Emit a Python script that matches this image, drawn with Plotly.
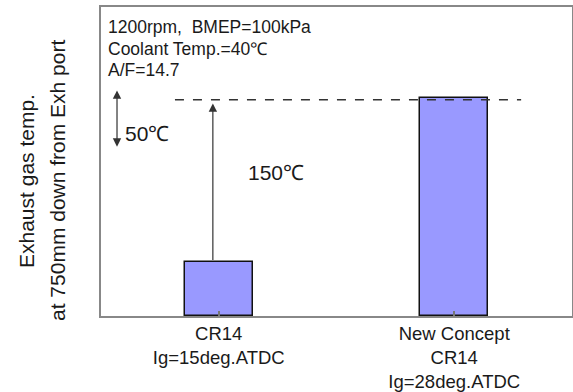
import plotly.graph_objects as go

# ---- data ----
categories = ["CR14", "New Concept CR14"]
tick_labels = ["CR14<br>Ig=15deg.ATDC", "New Concept<br>CR14<br>Ig=28deg.ATDC"]
temp_rise = [50, 200]          # relative exhaust gas temperature (°C)
diff_label = "150℃"
band_label = "50℃"
band_range = [154, 207]
cond_lines = ["1200rpm,  BMEP=100kPa", "Coolant Temp.=40℃", "A/F=14.7"]
y_title = ["Exhaust gas temp.", "at 750mm down from Exh port"]

FONT = "Liberation Sans, Arial, sans-serif"
TXT = "#1a1a1a"

fig = go.Figure()
fig.add_trace(go.Bar(
    x=[0, 1], y=temp_rise, width=0.29,
    marker=dict(color="#9999FF", line=dict(color="#111111", width=1.5)),
    showlegend=False, hoverinfo="skip"))

# dashed reference line at the new-concept level
fig.add_shape(type="line", xref="x", yref="y", x0=-0.186, x1=1.284,
              y0=temp_rise[1] - 1.5, y1=temp_rise[1] - 1.5,
              line=dict(color="#333333", width=1.5, dash="dash"))

# 150 °C arrow from bar 1 top up to the dashed line
fig.add_annotation(x=-0.025, y=temp_rise[1] - 5, ax=-0.025, ay=temp_rise[0],
                   xref="x", yref="y", axref="x", ayref="y", text="",
                   showarrow=True, arrowhead=2, arrowsize=1.4, arrowwidth=1.2,
                   arrowcolor="#333333")
fig.add_annotation(x=0.115, y=132, xref="x", yref="y", text=diff_label,
                   showarrow=False, xanchor="left", yanchor="middle",
                   font=dict(size=21, color=TXT, family=FONT))

# 50 °C double arrow
fig.add_annotation(x=-0.432, y=band_range[1], ax=-0.432, ay=band_range[0],
                   xref="x", yref="y", axref="x", ayref="y", text="",
                   showarrow=True, arrowhead=2, arrowside="end+start",
                   startarrowhead=2, arrowsize=1.4, startarrowsize=1.4,
                   arrowwidth=1.2, arrowcolor="#333333")
fig.add_annotation(x=-0.405, y=167, xref="x", yref="y", text=band_label,
                   showarrow=False, xanchor="left", yanchor="middle",
                   font=dict(size=21, color=TXT, family=FONT))

# condition text
for i, (line, ypix) in enumerate(zip(cond_lines, [27, 48.5, 70])):
    fig.add_annotation(x=(106 - 101) / 471, y=(316 - ypix) / 309,
                       xref="paper", yref="paper", text=line, showarrow=False,
                       xanchor="left", yanchor="middle",
                       font=dict(size=17.5, color=TXT, family=FONT))

# y-axis title (two rotated lines)
for line, xpix in zip(y_title, [26, 57]):
    fig.add_annotation(x=(xpix - 101) / 471, y=(316 - 181) / 309,
                       xref="paper", yref="paper", text=line, showarrow=False,
                       textangle=-90, xanchor="center", yanchor="middle",
                       font=dict(size=21, color=TXT, family=FONT))

fig.update_layout(
    width=573, height=392,
    margin=dict(l=101, r=1, t=7, b=76),
    paper_bgcolor="white", plot_bgcolor="white",
    bargap=0,
)
fig.update_xaxes(
    range=[-0.5, 1.5], tickmode="array", tickvals=[0, 1], ticktext=tick_labels,
    tickson="boundaries", ticks="inside", ticklen=5, tickcolor="#777777",
    tickwidth=1.5,
    showline=True, linecolor="#888888", linewidth=1.5, mirror=True,
    showgrid=False, zeroline=False, automargin=False,
    tickfont=dict(size=18.5, color=TXT, family=FONT),
)
fig.update_yaxes(
    range=[0, 283.5], showticklabels=False, ticks="",
    showline=True, linecolor="#888888", linewidth=1.5, mirror=True,
    showgrid=False, zeroline=False, automargin=False,
)

fig.write_html("out.html", config={"displayModeBar": False},
               post_script="document.body.style.margin='0';"
                           "document.body.style.overflow='hidden';")
